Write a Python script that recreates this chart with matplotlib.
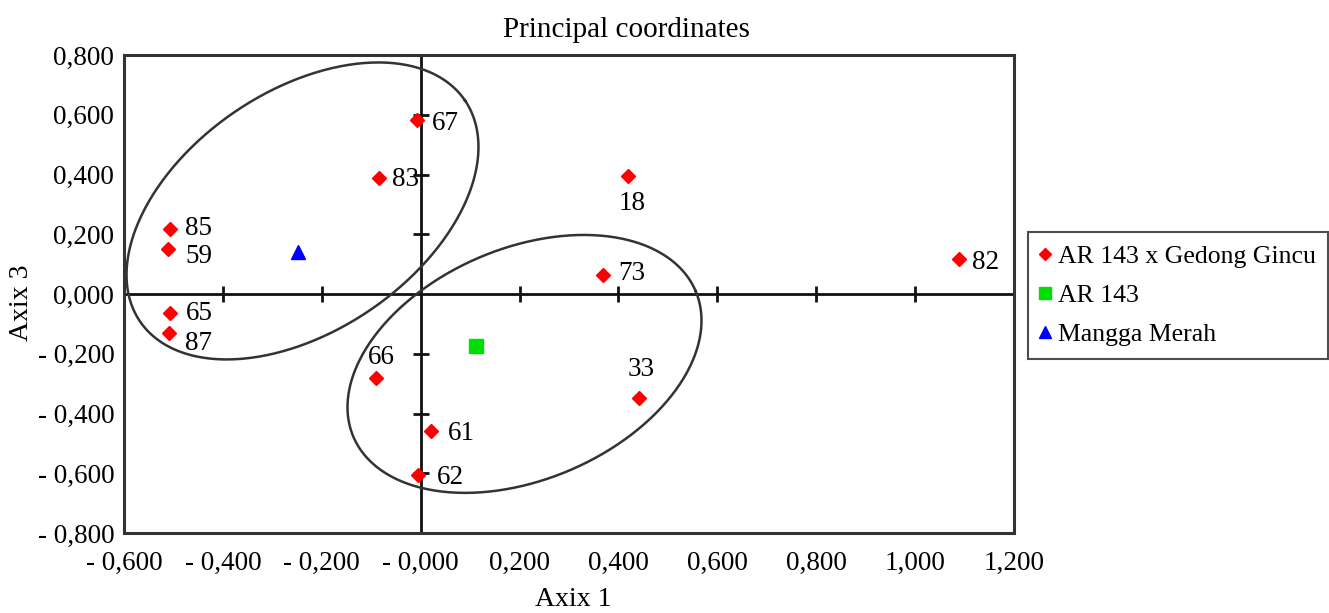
import numpy as np
import matplotlib
matplotlib.use("Agg")
import matplotlib.pyplot as plt
from matplotlib.lines import Line2D

# ---------------- data ----------------
cross_labels = ['67', '83', '85', '59', '65', '87', '18', '73', '82', '66', '33', '61', '62']
cross_x = [-0.008, -0.085, -0.506, -0.510, -0.506, -0.508, 0.419, 0.368, 1.088, -0.091, 0.441, 0.020, -0.006]
cross_y = [0.582, 0.388, 0.218, 0.151, -0.064, -0.129, 0.395, 0.064, 0.117, -0.281, -0.348, -0.459, -0.606]

ar143_x = [0.111]
ar143_y = [-0.174]

mangga_x = [-0.249]
mangga_y = [0.141]

series_names = ['AR 143 x Gedong Gincu', 'AR 143', 'Mangga Merah']

x_ticks = [-0.6, -0.4, -0.2, 0.0, 0.2, 0.4, 0.6, 0.8, 1.0, 1.2]
x_tick_labels = ['- 0,600', '- 0,400', '- 0,200', '- 0,000', '0,200', '0,400',
                 '0,600', '0,800', '1,000', '1,200']
y_ticks = [-0.8, -0.6, -0.4, -0.2, 0.0, 0.2, 0.4, 0.6, 0.8]
y_tick_labels = ['- 0,800', '- 0,600', '- 0,400', '- 0,200', '0,000', '0,200',
                 '0,400', '0,600', '0,800']

# ---------------- styling ----------------
plt.rcParams['font.family'] = ['Liberation Serif', 'DejaVu Serif']
FS = 19.5

W, H, DPI = 1329, 613, 100
fig = plt.figure(figsize=(W / DPI, H / DPI), dpi=DPI)
L, R, T, B = 124, 1014, 55, 533
ax = fig.add_axes([L / W, 1 - B / H, (R - L) / W, (B - T) / H])
ax.set_xlim(-0.6, 1.2)
ax.set_ylim(-0.8, 0.8)

for s in ax.spines.values():
    s.set_linewidth(2.2)
    s.set_color('#333333')

ax.set_xticks(x_ticks)
ax.set_xticklabels(x_tick_labels, fontsize=FS)
ax.set_yticks(y_ticks)
ax.set_yticklabels(y_tick_labels, fontsize=FS)
ax.tick_params(axis='x', length=0, pad=13)
ax.tick_params(axis='y', length=0, pad=7)

# inner axes through zero with crossing ticks
ax.axhline(0, color='#111111', lw=2, zorder=1)
ax.axvline(0, color='#111111', lw=2, zorder=1)
inner_x = [t for t in x_ticks if -0.6 < t < 1.2 and t != 0]
inner_y = [t for t in y_ticks if -0.8 < t < 0.8 and t != 0]
ax.plot(inner_x, [0] * len(inner_x), ls='none', marker='|', ms=12, mew=2, color='#111111', zorder=1)
ax.plot([0] * len(inner_y), inner_y, ls='none', marker='_', ms=12, mew=2, color='#111111', zorder=1)

# ellipses (drawn in pixel-proportional space)
sx = (R - L) / 1.8
sy = (B - T) / 1.6
ellipses = [((-0.239, 0.278), 196.5, 120.0, 34.2),
            ((0.210, -0.234), 186.0, 115.6, 23.1)]
t = np.linspace(0, 2 * np.pi, 400)
for (cx, cy), a, b, ang in ellipses:
    th = np.deg2rad(ang)
    dx = a * np.cos(t) * np.cos(th) - b * np.sin(t) * np.sin(th)
    dy = a * np.cos(t) * np.sin(th) + b * np.sin(t) * np.cos(th)
    ax.plot(cx + dx / sx, cy + dy / sy, color='#333333', lw=1.8, zorder=2)

# points
ax.plot(cross_x, cross_y, ls='none', marker='D', ms=7.5, color='#ff0000', mec='#ff0000', zorder=3)
ax.plot(ar143_x, ar143_y, ls='none', marker='s', ms=10, color='#00e000', mec='#00e000', zorder=3)
ax.plot(mangga_x, mangga_y, ls='none', marker='^', ms=10, color='#0000ff', mec='#0000ff', zorder=3)

# label placement (pixel offsets, alignment)
label_pos = {
    '67': (15, -3, 'left'), '83': (13, -1, 'left'), '85': (15, 0, 'left'),
    '59': (17, -8, 'left'), '65': (15, 0, 'left'), '87': (16, -11, 'left'),
    '73': (16, 1, 'left'), '61': (17, -2, 'left'), '62': (19, -2, 'left'),
    '82': (13, -3, 'left'), '18': (4, -28, 'center'), '66': (6, 20, 'center'),
    '33': (2, 28, 'center'),
}
for lab, x, y in zip(cross_labels, cross_x, cross_y):
    ox, oy, ha = label_pos[lab]
    ax.annotate(lab, (x, y), xytext=(ox, oy), textcoords='offset pixels',
                ha=ha, va='center', fontsize=FS, zorder=4)

# titles
fig.text(626 / W, 1 - 30 / H, 'Principal coordinates', ha='center', va='center', fontsize=21)
fig.text(573 / W, 1 - 600 / H, 'Axix 1', ha='center', va='center', fontsize=20)
fig.text(22 / W, 1 - 303 / H, 'Axix 3', ha='center', va='center', rotation=90, fontsize=20)

# legend
handles = [
    Line2D([], [], ls='none', marker='D', ms=6, color='#ff0000'),
    Line2D([], [], ls='none', marker='s', ms=8, color='#00e000'),
    Line2D([], [], ls='none', marker='^', ms=8, color='#0000ff'),
]
leg = fig.legend(handles, series_names, loc='upper left',
                 bbox_to_anchor=(1028 / W, 1 - 232 / H), bbox_transform=fig.transFigure,
                 borderaxespad=0, frameon=True, fancybox=False, fontsize=18.5,
                 handlelength=0.3, handletextpad=0.35, labelspacing=0.62,
                 borderpad=0.5, edgecolor='#222222')
leg.get_frame().set_linewidth(1.5)

fig.savefig('out.png', dpi=DPI)
